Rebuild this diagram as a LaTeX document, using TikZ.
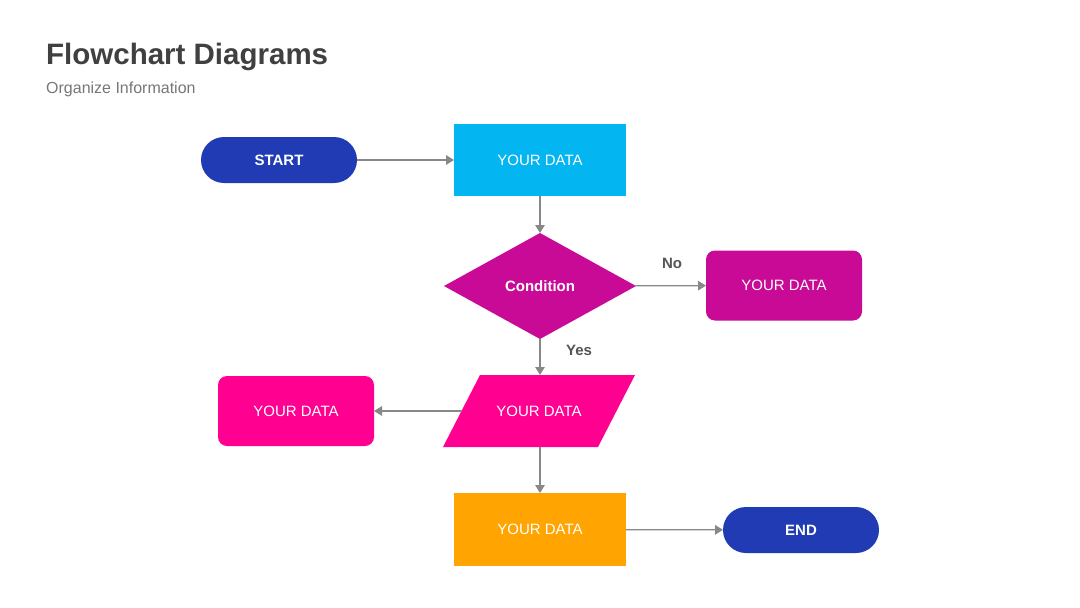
\documentclass[tikz,border=0pt]{standalone}
\usepackage{fontspec}
\setmainfont{Liberation Sans}
\usetikzlibrary{arrows.meta,shapes.geometric}
\definecolor{cBlue}{HTML}{203BB4}
\definecolor{cCyan}{HTML}{03B5F0}
\definecolor{cMag}{HTML}{C80A96}
\definecolor{cPink}{HTML}{FF0090}
\definecolor{cOrange}{HTML}{FFA400}
\definecolor{cLine}{HTML}{888888}
\definecolor{cTitle}{HTML}{404040}
\definecolor{cSub}{HTML}{777777}
\definecolor{cLabel}{HTML}{555555}
\tikzset{
  base/.style={inner sep=0pt, outer sep=0pt, text=white, font=\fontsize{15}{18}\selectfont},
  pill/.style={base, rectangle, rounded corners=23pt, minimum width=156pt, minimum height=46pt, fill=cBlue, font=\fontsize{15}{18}\selectfont\bfseries},
  sqbox/.style={base, rectangle, minimum width=172pt, minimum height=72pt},
  rbox/.style={base, rectangle, rounded corners=9pt, minimum width=156pt, minimum height=70pt},
  dia/.style={base, diamond, aspect=1.81, minimum width=192pt, minimum height=106pt, fill=cMag, font=\fontsize{15}{18}\selectfont\bfseries},
  conn/.style={draw=cLine, line width=1.3pt, -{Triangle[length=8pt,width=9.5pt]}},
  lbl/.style={text=cLabel, font=\fontsize{15}{18}\selectfont\bfseries, inner sep=0pt}
}
\begin{document}
\begin{tikzpicture}[x=1pt,y=-1pt]
\useasboundingbox (0,0) rectangle (1080,608);
\fill[white] (0,0) rectangle (1080,608);
% titles
\node[anchor=base west, inner sep=0pt, text=cTitle, font=\fontsize{29.5}{34}\selectfont\bfseries] (title) at (46,64) {Flowchart Diagrams};
\node[anchor=base west, inner sep=0pt, text=cSub, font=\fontsize{16}{19}\selectfont] (sub) at (46,93) {Organize Information};
% nodes
\node[pill] (start) at (279,160) {START};
\node[sqbox, fill=cCyan] (d1) at (540,160) {YOUR DATA};
\node[dia] (cond) at (540,286) {Condition};
\node[rbox, fill=cMag] (no) at (784,285.5) {YOUR DATA};
\fill[cPink] (480,375) -- (635,375) -- (598,447) -- (443,447) -- cycle;
\node[base, rectangle, minimum width=155pt, minimum height=72pt] (par) at (539,411) {YOUR DATA};
\node[rbox, fill=cPink] (left) at (296,411) {YOUR DATA};
\node[sqbox, fill=cOrange, minimum height=73pt] (d3) at (540,529.5) {YOUR DATA};
\node[pill] (end) at (801,530) {END};
% connectors
\draw[conn] (start) -- (d1);
\draw[conn] (d1) -- (cond);
\draw[conn] (cond) -- (no);
\draw[conn] (cond.south) -- (cond.south |- par.north);
\draw[conn] (par.west) -- (left.east);
\draw[conn] (cond.south |- par.south) -- (d3.north);
\draw[conn] (d3) -- (end);
% labels
\node[lbl] (lno) at (672,263) {No};
\node[lbl] (lyes) at (579,350) {Yes};
\end{tikzpicture}
\end{document}
